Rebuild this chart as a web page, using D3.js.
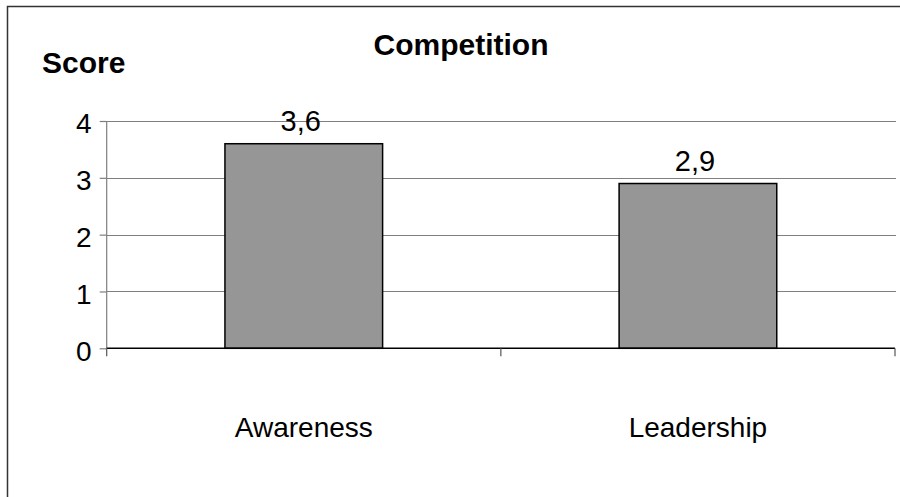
<!DOCTYPE html>
<html>
<head>
<meta charset="utf-8">
<script src="https://cdn.jsdelivr.net/npm/d3@7/dist/d3.min.js"></script>
<style>
  html, body { margin: 0; padding: 0; background: #fff; }
  svg { display: block; font-family: "Liberation Sans", Arial, Helvetica, sans-serif; }
</style>
</head>
<body>
<svg id="chart" width="900" height="497"></svg>
<script>
const categories = ["Awareness", "Leadership"];
const values = [3.6, 2.9];
const valueLabels = ["3,6", "2,9"];
const yTicks = [0, 1, 2, 3, 4];
const chartTitle = "Competition";
const yAxisTitle = "Score";

const svg = d3.select("#chart");
const W = 900, H = 497;
svg.append("rect").attr("width", W).attr("height", H).attr("fill", "#fff");

// outer chart border (left/top visible)
svg.append("path")
  .attr("d", "M7.5,505 L7.5,6.5 L910,6.5")
  .attr("fill", "none").attr("stroke", "#333").attr("stroke-width", 1.5);

const pLeft = 106.7, pRight = 895, pTop = 121, pBottom = 348.3;

const x = d3.scaleBand().domain(categories).range([pLeft, pRight])
  .paddingInner(0.6).paddingOuter(0.3);
const xTickScale = d3.scaleBand().domain(categories).range([pLeft, pRight]);
const y = d3.scaleLinear().domain([0, 4]).range([pBottom, pTop]);

// gridlines
svg.append("g").selectAll("line").data(yTicks.filter(d => d > 0)).join("line")
  .attr("x1", pLeft).attr("x2", pRight + 1)
  .attr("y1", d => Math.round(y(d)) + 0.5).attr("y2", d => Math.round(y(d)) + 0.5)
  .attr("stroke", "#7f7f7f").attr("stroke-width", 1.2);

// y axis
const yAxis = d3.axisLeft(y).tickValues(yTicks).tickSize(7).tickPadding(9)
  .tickFormat(d3.format("d"));
const gy = svg.append("g").attr("transform", `translate(${pLeft},0)`).call(yAxis);
gy.select(".domain").remove();
gy.selectAll(".tick line").attr("stroke", "#7f7f7f").attr("stroke-width", 1.2);
gy.selectAll(".tick text").attr("font-size", 28).attr("fill", "#000")
  .attr("dy", "0.42em").attr("x", -15);

// y axis vertical line
svg.append("line")
  .attr("x1", pLeft).attr("x2", pLeft).attr("y1", pTop).attr("y2", pBottom)
  .attr("stroke", "#7f7f7f").attr("stroke-width", 1.2);

// bars
svg.append("g").selectAll("rect").data(categories).join("rect")
  .attr("x", d => x(d))
  .attr("y", (d, i) => y(values[i]))
  .attr("width", x.bandwidth())
  .attr("height", (d, i) => y(0) - y(values[i]))
  .attr("fill", "#969696").attr("stroke", "#000").attr("stroke-width", 1.5);

// x axis (category boundaries ticks)
const boundaries = categories.map(c => xTickScale(c)).concat([pRight]);
svg.append("line")
  .attr("x1", pLeft).attr("x2", pRight).attr("y1", pBottom).attr("y2", pBottom)
  .attr("stroke", "#000").attr("stroke-width", 1.5);
svg.append("g").selectAll("line").data(boundaries).join("line")
  .attr("x1", d => d).attr("x2", d => d)
  .attr("y1", pBottom).attr("y2", pBottom + 8)
  .attr("stroke", "#555").attr("stroke-width", 1.2);

// category labels
svg.append("g").selectAll("text").data(categories).join("text")
  .attr("x", d => xTickScale(d) + xTickScale.bandwidth() / 2)
  .attr("y", 437)
  .attr("text-anchor", "middle").attr("font-size", 28).attr("fill", "#000")
  .text(d => d);

// value labels
svg.append("g").selectAll("text").data(categories).join("text")
  .attr("x", d => x(d) + x.bandwidth() / 2 - 3)
  .attr("y", (d, i) => y(values[i]) - 12.5)
  .attr("text-anchor", "middle").attr("font-size", 29).attr("fill", "#000")
  .text((d, i) => valueLabels[i]);

// title
svg.append("text").attr("x", 461).attr("y", 55)
  .attr("text-anchor", "middle").attr("font-size", 30).attr("font-weight", "bold")
  .text(chartTitle);

// y axis title
svg.append("text").attr("x", 42).attr("y", 73)
  .attr("font-size", 30).attr("font-weight", "bold")
  .text(yAxisTitle);
</script>
</body>
</html>
